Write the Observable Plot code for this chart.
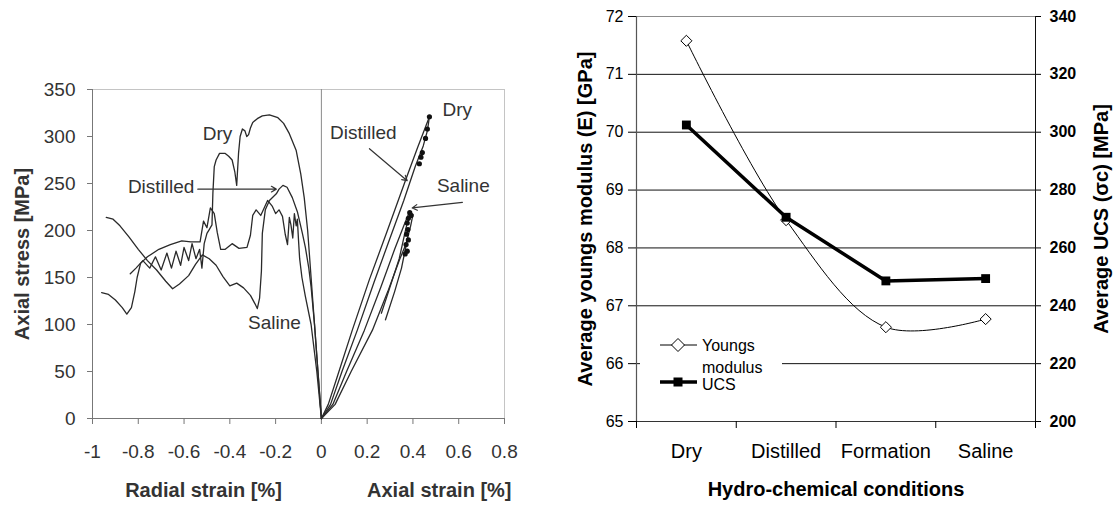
<!DOCTYPE html>
<html><head><meta charset="utf-8">
<script src="https://cdn.jsdelivr.net/npm/d3@7"></script>
<script src="https://cdn.jsdelivr.net/npm/@observablehq/plot@0.6"></script>
<style>
html,body{margin:0;padding:0;background:#fff;}
body{width:1115px;height:505px;overflow:hidden;position:relative;font-family:"Liberation Sans",Arial,sans-serif;}
#left{position:absolute;left:0;top:0;}
#right{position:absolute;left:540px;top:0;}
#legend{position:absolute;left:640px;top:324px;}
</style></head><body>
<div id="left"></div><div id="right"></div>
<svg id="legend" width="142" height="78">
  <rect width="142" height="78" fill="#fff"/>
  <line x1="20" x2="57" y1="21" y2="21" stroke="#000" stroke-width="1"/>
  <path d="M38,14.5 L44.5,21 L38,27.5 L31.5,21Z" fill="#fff" stroke="#000"/>
  <text x="62" y="27" font-size="16" font-family="Liberation Sans, Arial, sans-serif">Youngs</text>
  <text x="62" y="49" font-size="16" font-family="Liberation Sans, Arial, sans-serif">modulus</text>
  <line x1="20" x2="57" y1="58" y2="58" stroke="#000" stroke-width="3.5"/>
  <rect x="33.5" y="53.5" width="9" height="9" fill="#000"/>
  <text x="62" y="66" font-size="16" font-family="Liberation Sans, Arial, sans-serif">UCS</text>
</svg>
<script>
// ---------- Left panel: stress-strain curves ----------
const strainTicks = [-1, -0.8, -0.6, -0.4, -0.2, 0, 0.2, 0.4, 0.6, 0.8];
const stressTicks = [0, 50, 100, 150, 200, 250, 300, 350];

const radialDry = [[0,0],[-0.015,50],[-0.03,100],[-0.045,150],[-0.06,200],[-0.075,235],[-0.09,260],[-0.11,285],[-0.14,303],[-0.165,314],[-0.19,320],[-0.227,323],[-0.258,322],[-0.28,319],[-0.3,315],[-0.31,309],[-0.318,302],[-0.326,300],[-0.334,306],[-0.345,308],[-0.355,300],[-0.362,282],[-0.37,248],[-0.378,262],[-0.39,275],[-0.405,279],[-0.42,282],[-0.445,282],[-0.46,275],[-0.468,268],[-0.474,240],[-0.478,206],[-0.49,201],[-0.5,197],[-0.512,186],[-0.522,160],[-0.532,180],[-0.548,170],[-0.565,186],[-0.58,168],[-0.6,182],[-0.615,163],[-0.635,178],[-0.655,160],[-0.675,176],[-0.7,158],[-0.725,172],[-0.75,160],[-0.78,168],[-0.81,160],[-0.835,154]];

const radialDistilled = [[0,0],[-0.015,50],[-0.03,100],[-0.045,140],[-0.055,160],[-0.07,182],[-0.083,197],[-0.105,220],[-0.127,235],[-0.15,246],[-0.168,248],[-0.185,244],[-0.197,239],[-0.227,232],[-0.245,222],[-0.258,197],[-0.262,157],[-0.27,128],[-0.28,117],[-0.29,122],[-0.31,131],[-0.34,139],[-0.37,144],[-0.4,141],[-0.43,151],[-0.46,163],[-0.49,170],[-0.52,174],[-0.55,164],[-0.58,152],[-0.62,143],[-0.65,138],[-0.68,146],[-0.72,158],[-0.76,168],[-0.8,180],[-0.84,193],[-0.88,205],[-0.91,212],[-0.94,214]];

const radialSaline = [[0,0],[-0.02,50],[-0.045,100],[-0.07,130],[-0.085,150],[-0.095,170],[-0.1,190],[-0.105,212],[-0.11,205],[-0.118,218],[-0.125,192],[-0.133,206],[-0.14,214],[-0.148,185],[-0.158,196],[-0.17,215],[-0.185,222],[-0.2,218],[-0.215,226],[-0.235,232],[-0.25,224],[-0.265,216],[-0.285,222],[-0.3,216],[-0.31,195],[-0.325,182],[-0.36,181],[-0.39,186],[-0.42,180],[-0.44,180],[-0.455,198],[-0.468,218],[-0.485,224],[-0.5,203],[-0.515,210],[-0.53,188],[-0.57,188],[-0.61,189],[-0.66,185],[-0.71,180],[-0.76,172],[-0.79,165],[-0.805,150],[-0.815,135],[-0.83,118],[-0.85,111],[-0.87,118],[-0.9,126],[-0.93,132],[-0.96,134]];

const axialA = [[0,0],[0.03,15],[0.07,45],[0.135,94],[0.21,148],[0.284,197],[0.37,255],[0.42,288],[0.472,321]];
const axialB = [[0,0],[0.04,15],[0.09,50],[0.157,94],[0.23,145],[0.3,192],[0.36,232],[0.41,268],[0.445,290],[0.463,306],[0.472,321]];
const axialC = [[0,0],[0.05,15],[0.11,50],[0.188,94],[0.26,140],[0.32,180],[0.36,205],[0.385,220]];
const axialD = [[0,0],[0.06,15],[0.13,50],[0.223,94],[0.29,135],[0.34,168],[0.37,186],[0.39,205],[0.4,217]];
const axialE = [[0.262,112],[0.3,140],[0.34,170],[0.37,203],[0.385,215]];
const axialF = [[0.28,105],[0.32,135],[0.35,160],[0.375,190]];
const axialDots = [[0.472,321],[0.463,308],[0.455,298],[0.441,283],[0.435,278],[0.428,271],[0.386,219],[0.392,216],[0.38,213],[0.375,208],[0.378,201],[0.372,196],[0.38,190],[0.37,185],[0.375,178],[0.366,175]];

const curveLabels = [
  {x: -0.454, y: 303, t: "Dry"},
  {x: -0.70, y: 246, t: "Distilled"},
  {x: -0.205, y: 102, t: "Saline"},
  {x: 0.594, y: 328, t: "Dry"},
  {x: 0.183, y: 304, t: "Distilled"},
  {x: 0.62, y: 247, t: "Saline"}
];
const labelArrows = [
  {x1: -0.54, y1: 244, x2: -0.197, y2: 244},
  {x1: 0.21, y1: 287, x2: 0.375, y2: 253},
  {x1: 0.616, y1: 230, x2: 0.397, y2: 224}
];
const strainTitles = [{x: -0.515, t: "Radial strain [%]"}, {x: 0.515, t: "Axial strain [%]"}];

const pt = {x: d => d[0], y: d => d[1]};
const curveStyle = {...pt, stroke: "#2a2a2a", strokeWidth: 1.3};

const leftPlot = Plot.plot({
  width: 540, height: 505,
  marginLeft: 92, marginRight: 36, marginTop: 89, marginBottom: 87,
  x: {domain: [-1, 0.8]},
  y: {domain: [0, 350]},
  style: {fontFamily: "Liberation Sans, Arial, sans-serif", color: "#333", background: "#fff"},
  marks: [
    Plot.ruleY([350], {stroke: "#c4c4c4"}),
    Plot.ruleX([0.8], {stroke: "#c4c4c4"}),
    Plot.ruleX([0], {stroke: "#8a8a8a"}),
    Plot.ruleX([-1], {stroke: "#777"}),
    Plot.ruleY([0], {stroke: "#777"}),
    Plot.axisY({ticks: stressTicks, tickSize: 5, tickPadding: 12, stroke: "#777", fontSize: 19, label: null, tickFormat: d => String(d)}),
    Plot.axisX({ticks: strainTicks, tickSize: 6, tickPadding: 20, stroke: "#777", fontSize: 19, label: null, tickFormat: d => String(d)}),
    Plot.line(radialDry, curveStyle),
    Plot.line(radialDistilled, curveStyle),
    Plot.line(radialSaline, curveStyle),
    Plot.line(axialA, curveStyle),
    Plot.line(axialB, curveStyle),
    Plot.line(axialC, curveStyle),
    Plot.line(axialD, curveStyle),
    Plot.line(axialE, curveStyle),
    Plot.line(axialF, curveStyle),
    Plot.dot(axialDots, {...pt, r: 2.6, fill: "#111"}),
    Plot.arrow(labelArrows, {x1: "x1", y1: "y1", x2: "x2", y2: "y2", stroke: "#333", strokeWidth: 1.2, headLength: 7}),
    Plot.text(curveLabels, {x: "x", y: "y", text: "t", fontSize: 19, fill: "#333"}),
    Plot.text(["Axial stress [MPa]"], {frameAnchor: "left", textAnchor: "middle", dx: -70, rotate: -90, fontSize: 20, fontWeight: "bold", fill: "#333"}),
    Plot.text(strainTitles, {x: "x", text: "t", frameAnchor: "bottom", dy: 78, fontSize: 20, fontWeight: "bold", fill: "#333"})
  ]
});
document.getElementById("left").appendChild(leftPlot);

// ---------- Right panel: averages by condition ----------
const categories = ["Dry", "Distilled", "Formation", "Saline"];
const youngsModulus = [71.58, 68.48, 66.63, 66.77];   // GPa (left axis)
const ucsValues = [302.5, 270.6, 248.6, 249.4];        // MPa (right axis)
const eTicks = [65, 66, 67, 68, 69, 70, 71, 72];
const ucsTicks = [200, 220, 240, 260, 280, 300, 320, 340];

const ucsToE = d3.scaleLinear().domain([200, 340]).range([65, 72]);
const rows = categories.map((c, i) => ({c, pos: i + 0.5, e: youngsModulus[i], ucs: ucsToE(ucsValues[i])}));

const rightPlot = Plot.plot({
  width: 575, height: 505,
  marginLeft: 96, marginRight: 80, marginTop: 16, marginBottom: 84,
  x: {domain: [0, categories.length]},
  y: {domain: [65, 72]},
  style: {fontFamily: "Liberation Sans, Arial, sans-serif", color: "#000", background: "transparent"},
  marks: [
    Plot.ruleY(eTicks.filter(d => d > 65 && d < 72), {stroke: "#111"}),
    Plot.ruleY([72], {stroke: "#8c8c8c"}),
    Plot.ruleX([0], {stroke: "#555", strokeWidth: 1.2}),
    Plot.ruleX([categories.length], {stroke: "#111"}),
    Plot.ruleY([65], {stroke: "#333", strokeWidth: 1.2}),
    Plot.axisY({ticks: eTicks, tickSize: 8, tickPadding: 5, fontSize: 16, label: null, tickFormat: d => String(d)}),
    Plot.axisY({anchor: "right", ticks: ucsTicks.map(v => ucsToE(v)), tickSize: 5, tickPadding: 9, fontSize: 16, fontWeight: "bold", label: null, tickFormat: d => String(Math.round(ucsToE.invert(d)))}),
    Plot.axisX({ticks: d3.range(categories.length + 1), tickSize: 7, tickFormat: () => "", label: null}),
    Plot.axisX({ticks: rows.map(r => r.pos), tickSize: 0, tickPadding: 22, fontSize: 20, label: null, tickFormat: d => categories[Math.floor(d)]}),
    Plot.line(rows, {x: "pos", y: "e", curve: "catmull-rom", stroke: "#000", strokeWidth: 1}),
    Plot.dot(rows, {x: "pos", y: "e", symbol: "diamond2", r: 5, fill: "#fff", stroke: "#000", strokeWidth: 1}),
    Plot.line(rows, {x: "pos", y: "ucs", stroke: "#000", strokeWidth: 3.5}),
    Plot.dot(rows, {x: "pos", y: "ucs", symbol: "square", r: 5, fill: "#000"}),
    Plot.text(["Average youngs modulus (E) [GPa]"], {frameAnchor: "left", textAnchor: "middle", dx: -51, rotate: -90, fontSize: 20, fontWeight: "bold"}),
    Plot.text(["Average UCS (σc) [MPa]"], {frameAnchor: "right", textAnchor: "middle", dx: 66, rotate: -90, fontSize: 20, fontWeight: "bold"}),
    Plot.text(["Hydro-chemical conditions"], {frameAnchor: "bottom", dy: 74, fontSize: 20, fontWeight: "bold"})
  ]
});
document.getElementById("right").appendChild(rightPlot);
</script>
</body></html>
